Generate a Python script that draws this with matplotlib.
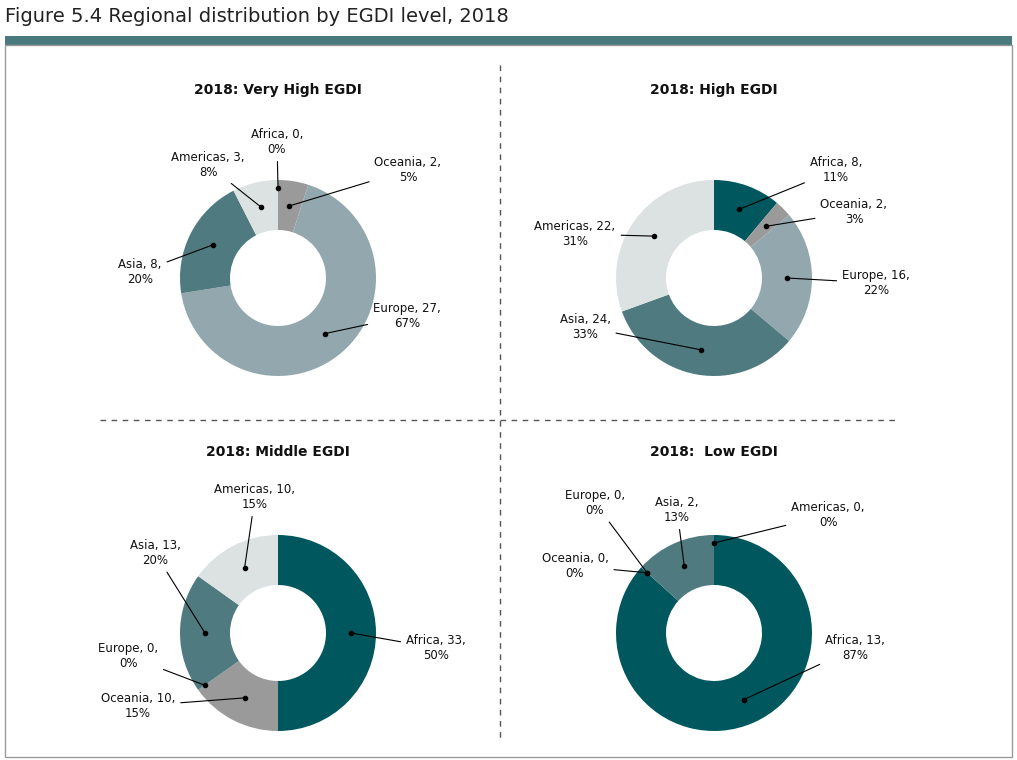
import numpy as np
import matplotlib.pyplot as plt
from matplotlib.patches import Rectangle

regions = ["Africa", "Oceania", "Europe", "Asia", "Americas"]
colors = ["#00585E", "#9A9A9A", "#93A8AE", "#4F7A80", "#DCE2E2"]

titles = ["2018: Very High EGDI", "2018: High EGDI", "2018: Middle EGDI", "2018:  Low EGDI"]
counts = [
    [0, 2, 27, 8, 3],
    [8, 2, 16, 24, 22],
    [33, 10, 0, 13, 10],
    [13, 0, 0, 2, 0],
]
pcts = [
    [0, 5, 67, 20, 8],
    [11, 3, 22, 33, 31],
    [50, 15, 0, 20, 15],
    [87, 0, 0, 13, 0],
]

# layout in pixels (y from top)
W, H = 1017, 760
centers = [(278, 278), (714, 278), (278, 633), (714, 633)]
title_y = [90, 90, 452, 452]
label_pos = [
    [(277, 142), (408, 170), (407, 316), (140, 272), (208, 165)],
    [(836, 170), (854, 212), (876, 283), (585, 327), (575, 234)],
    [(436, 648), (138, 706), (128, 656), (155, 553), (255, 497)],
    [(855, 648), (575, 566), (595, 503), (677, 510), (828, 515)],
]
R, RING = 98, 50

fig = plt.figure(figsize=(W / 100, H / 100), dpi=100)
ax = fig.add_axes([0, 0, 1, 1])


def py(y):
    return H - y


fig.text(5 / W, 1 - 16 / H, "Figure 5.4 Regional distribution by EGDI level, 2018",
         fontsize=14, va="center", ha="left", color="#222222")
ax.add_patch(Rectangle((5, py(45)), W - 10, 9, color="#4A7A7E", lw=0))
ax.add_patch(Rectangle((5, py(757)), W - 10, 712, fill=False, ec="#9A9A9A", lw=1))
ax.plot([500, 500], [py(65), py(742)], ls=(0, (4, 4)), color="#555555", lw=1)
ax.plot([100, 900], [py(420), py(420)], ls=(0, (4, 4)), color="#555555", lw=1)

for i in range(4):
    cx, cy = centers[i]
    wedges, _ = ax.pie(counts[i], colors=colors, center=(cx, py(cy)), radius=R,
                       startangle=90, counterclock=False,
                       wedgeprops=dict(width=RING, lw=0), frame=True)
    ax.text(cx, py(title_y[i]), titles[i], ha="center", va="center", fontsize=10,
            fontweight="bold", color="#111111")
    for j, w in enumerate(wedges):
        mid = np.deg2rad((w.theta1 + w.theta2) / 2)
        r = R - RING / 2 if counts[i][j] > 0 else R - 8
        dx, dy = cx + r * np.cos(mid), py(cy) + r * np.sin(mid)
        lx, ly = label_pos[i][j]
        ax.plot(dx, dy, "o", color="black", ms=3)
        ax.annotate(f"{regions[j]}, {counts[i][j]},\n{pcts[i][j]}%", xy=(dx, dy),
                    xytext=(lx, py(ly)), ha="center", va="center", fontsize=8.5,
                    color="#111111",
                    arrowprops=dict(arrowstyle="-", color="black", lw=0.8,
                                    shrinkA=2, shrinkB=0))

ax.set_xlim(0, W)
ax.set_ylim(0, H)
ax.axis("off")
fig.savefig("out.png", dpi=100)
